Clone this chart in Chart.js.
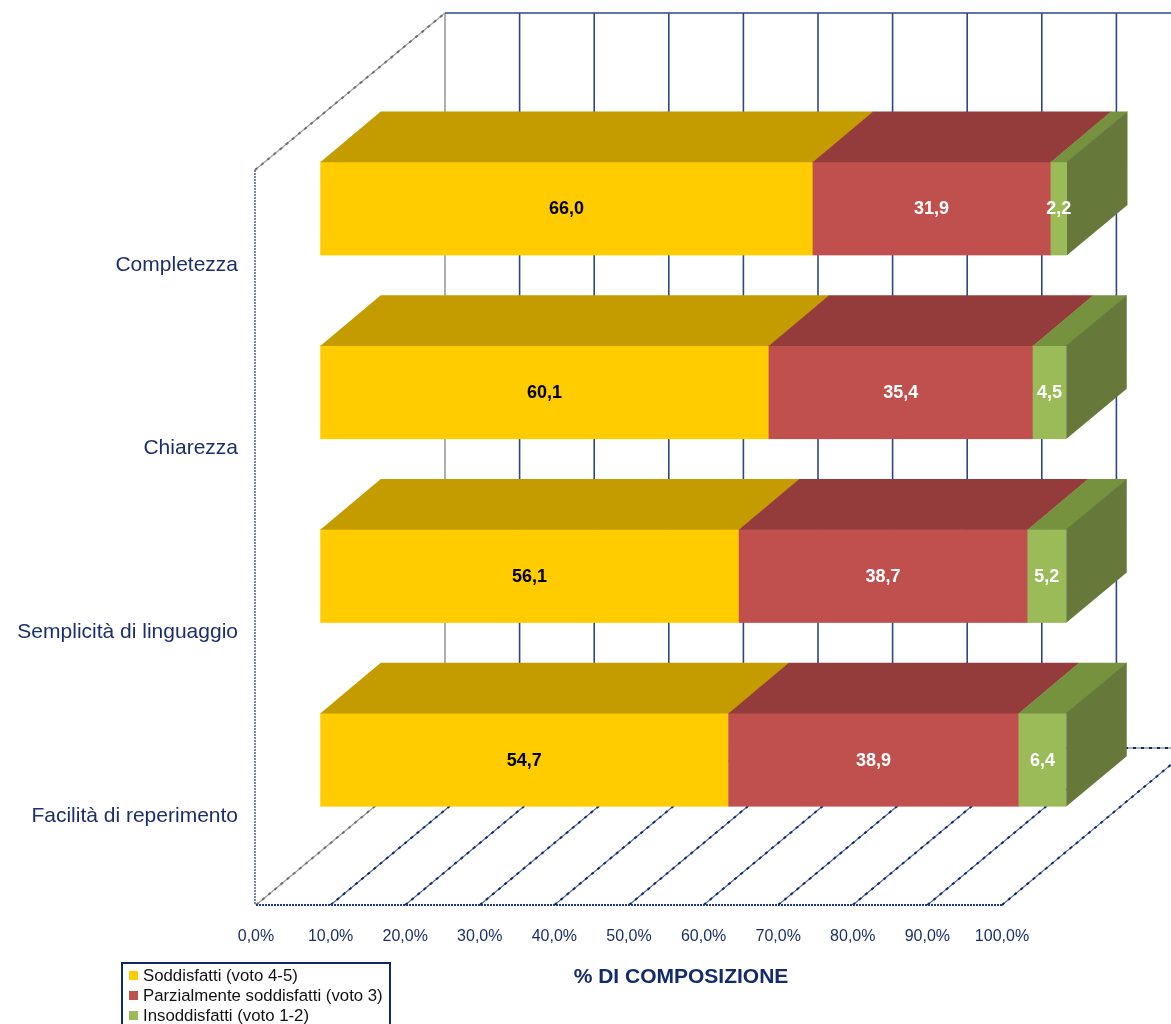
<!DOCTYPE html>
<html>
<head>
<meta charset="utf-8">
<title>% di composizione</title>
<script src="https://cdn.jsdelivr.net/npm/chart.js@4.4.1/dist/chart.umd.min.js"></script>
<style>
  html, body { margin: 0; padding: 0; background: #fff; }
  #wrap { width: 1171px; height: 1024px; }
</style>
</head>
<body>
<div id="wrap"><canvas id="chart" width="1171" height="1024"></canvas></div>
<script>
// Data
const categories = ["Completezza", "Chiarezza", "Semplicità di linguaggio", "Facilità di reperimento"];
const seriesNames = ["Soddisfatti (voto 4-5)", "Parzialmente soddisfatti (voto 3)", "Insoddisfatti (voto 1-2)"];
const soddisfatti = [66.0, 60.1, 56.1, 54.7];
const parziali = [31.9, 35.4, 38.7, 38.9];
const insoddisfatti = [2.2, 4.5, 5.2, 6.4];
const axisTitle = "% DI COMPOSIZIONE";

const NAVY = "#1B2F6A";
const FONT = "'Liberation Sans', Arial, sans-serif";

// 3D projection: offset of the full floor depth, bars sit in the middle third
const depth = { x: 189, y: -157 };
const barFront = 0.34;
const barBack = 0.66;

const fmt = v => v.toFixed(1).replace(".", ",");

function poly(ctx, pts, fill) {
  ctx.beginPath();
  ctx.moveTo(pts[0][0], pts[0][1]);
  for (let i = 1; i < pts.length; i++) ctx.lineTo(pts[i][0], pts[i][1]);
  ctx.closePath();
  ctx.fillStyle = fill;
  ctx.fill();
}

function line(ctx, x0, y0, x1, y1, color, width, dash) {
  ctx.save();
  ctx.beginPath();
  ctx.strokeStyle = color;
  ctx.lineWidth = width;
  ctx.setLineDash(dash || []);
  ctx.moveTo(x0, y0);
  ctx.lineTo(x1, y1);
  ctx.stroke();
  ctx.restore();
}

// beaded line used on the floor and side walls
function beaded(ctx, x0, y0, x1, y1, color) {
  line(ctx, x0, y0, x1, y1, color === "grey" ? "#9a9a9a" : "#4d67a0", 1.1);
  line(ctx, x0, y0, x1, y1, color === "grey" ? "#6e6e6e" : "#10296a", 2, [3, 5]);
}

function drawWalls(ctx, a, xs) {
  const ticks = xs.ticks.map(t => t.value);
  const backTop = a.top + depth.y;
  const backBottom = a.bottom + depth.y;

  // back wall
  ticks.forEach(v => {
    const px = xs.getPixelForValue(v) + depth.x;
    line(ctx, px, backTop, px, backBottom, v === 0 ? "#9a9a9a" : "#2B4784", 1.6);
  });
  line(ctx, a.left + depth.x, backTop, a.right + depth.x, backTop, "#2B4784", 1.6);

  // floor
  ticks.forEach(v => {
    const px = xs.getPixelForValue(v);
    beaded(ctx, px, a.bottom, px + depth.x, backBottom, v === 0 ? "grey" : "navy");
  });
  beaded(ctx, a.left + depth.x, backBottom, a.right + depth.x, backBottom, "navy");
  line(ctx, a.left, a.bottom, a.right, a.bottom, "#1F3C7A", 2.2, [2, 1]);

  // left wall
  line(ctx, a.left - 1, a.top, a.left - 1, a.bottom, "#55699a", 1.6, [2, 1]);
  beaded(ctx, a.left - 1, a.top, a.left + depth.x, backTop, "grey");
}

const box3d = {
  id: "box3d",
  beforeDatasetsDraw(chart) {
    const { ctx, chartArea: a } = chart;
    const xs = chart.scales.x;
    drawWalls(ctx, a, xs);

    const fx = depth.x * barFront, fy = depth.y * barFront;
    const dx = depth.x * (barBack - barFront), dy = depth.y * (barBack - barFront);
    const sets = chart.data.datasets;
    const metas = sets.map((d, i) => chart.getDatasetMeta(i));
    const marks = [];

    chart.data.labels.forEach((cat, j) => {
      metas.forEach((meta, i) => {
        const ds = sets[i];
        const el = meta.data[j];
        const p = el.getProps(["x", "y", "base", "height"], true);
        const l = p.base + fx, r = p.x + fx;
        const t = p.y - p.height / 2 + fy, b = p.y + p.height / 2 + fy;
        ctx.fillStyle = ds.backgroundColor;
        ctx.fillRect(l, t, r - l + (i < metas.length - 1 ? 0.5 : 0), b - t);
        poly(ctx, [[l, t + 0.5], [r + 0.5, t + 0.5], [r + dx + 0.5, t + dy], [l + dx, t + dy]], ds.topColor);
        if (i === metas.length - 1) {
          poly(ctx, [[r, t], [r + dx, t + dy], [r + dx, b + dy], [r, b]], ds.sideColor);
        }
        marks.push({ x: (l + r) / 2, y: (t + b) / 2, text: fmt(ds.data[j]), color: ds.labelColor });
      });
    });

    ctx.save();
    ctx.font = "bold 18px " + FONT;
    ctx.textAlign = "center";
    ctx.textBaseline = "middle";
    marks.forEach(m => {
      ctx.fillStyle = m.color;
      ctx.fillText(m.text, m.x, m.y + 1);
    });
    ctx.restore();
    return false;
  },
  afterDraw(chart) {
    const ctx = chart.ctx;
    ctx.save();
    // axis title
    ctx.font = "bold 21px " + FONT;
    ctx.fillStyle = "#132B6B";
    ctx.textAlign = "center";
    ctx.textBaseline = "middle";
    ctx.fillText(axisTitle, 681, 977);

    // legend
    const lx = 122, ly = 963;
    ctx.strokeStyle = "#0F2A6B";
    ctx.lineWidth = 2;
    ctx.strokeRect(lx, ly, 268, 80);
    ctx.font = "16.8px " + FONT;
    ctx.textAlign = "left";
    chart.data.datasets.forEach((ds, i) => {
      const cy = ly + 13 + i * 20;
      ctx.fillStyle = ds.backgroundColor;
      ctx.fillRect(lx + 7, cy - 5, 9, 9);
      ctx.fillStyle = "#111";
      ctx.fillText(ds.label, lx + 21, cy);
    });
    ctx.restore();
  }
};

new Chart(document.getElementById("chart"), {
  type: "bar",
  data: {
    labels: categories,
    datasets: [
      { label: seriesNames[0], data: soddisfatti, backgroundColor: "#FFCC00", topColor: "#C49C00", sideColor: "#A88600", labelColor: "#000" },
      { label: seriesNames[1], data: parziali, backgroundColor: "#C0504D", topColor: "#943C3B", sideColor: "#7E3332", labelColor: "#fff" },
      { label: seriesNames[2], data: insoddisfatti, backgroundColor: "#9BBB59", topColor: "#77923F", sideColor: "#66793A", labelColor: "#fff" }
    ]
  },
  options: {
    indexAxis: "y",
    responsive: false,
    animation: false,
    devicePixelRatio: 1,
    barPercentage: 0.51,
    categoryPercentage: 1,
    layout: { padding: { top: 170, right: 169, left: 0, bottom: 0 } },
    plugins: { legend: { display: false }, tooltip: { enabled: false } },
    scales: {
      x: {
        stacked: true,
        min: 0,
        max: 100,
        grid: { display: false, drawTicks: false },
        border: { display: false },
        ticks: {
          stepSize: 10,
          padding: 22,
          color: NAVY,
          font: { family: FONT, size: 16 },
          callback: v => fmt(v) + "%"
        },
        afterFit: s => { s.height = 119; }
      },
      y: {
        stacked: true,
        grid: { display: false, drawTicks: false },
        border: { display: false },
        ticks: {
          padding: 18,
          labelOffset: 3,
          color: NAVY,
          font: { family: FONT, size: 21 }
        },
        afterFit: s => { s.width = 256; }
      }
    }
  },
  plugins: [box3d]
});
</script>
</body>
</html>
